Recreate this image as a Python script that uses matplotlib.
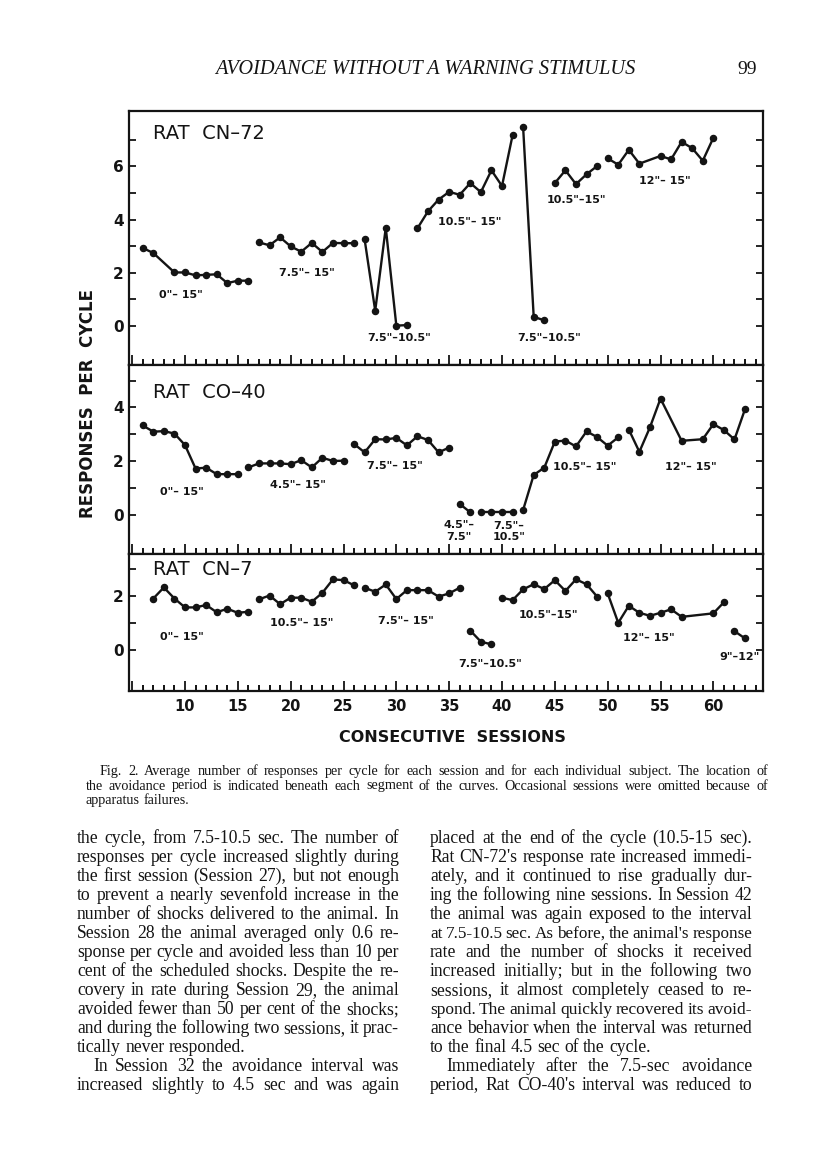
import matplotlib
matplotlib.use('Agg')
import matplotlib.pyplot as plt
from matplotlib.ticker import MultipleLocator

# ---- data ----
cn72_sessions = [[6, 7, 9, 10, 11, 12, 13, 14, 15, 16],
                 list(range(17, 27)),
                 [27, 28, 29, 30, 31],
                 list(range(32, 42)),
                 [42, 43, 44],
                 [45, 46, 47, 48, 49],
                 [50, 51, 52, 53, 55, 56, 57, 58, 59, 60]]
cn72_values = [[2.93, 2.74, 2.01, 2.01, 1.90, 1.92, 1.94, 1.61, 1.70, 1.70],
               [3.14, 3.03, 3.33, 2.99, 2.79, 3.12, 2.78, 3.12, 3.11, 3.11],
               [3.25, 0.57, 3.69, 0.01, 0.03],
               [3.67, 4.31, 4.75, 5.04, 4.93, 5.37, 5.03, 5.85, 5.26, 7.17],
               [7.46, 0.34, 0.21],
               [5.37, 5.85, 5.33, 5.70, 6.01],
               [6.30, 6.06, 6.62, 6.10, 6.39, 6.26, 6.92, 6.68, 6.21, 7.07]]
cn72_labels = ['0"– 15"', '7.5"– 15"', '7.5"–10.5"', '10.5"– 15"',
               '7.5"–10.5"', '10.5"–15"', '12"– 15"']

co40_sessions = [list(range(6, 16)),
                 list(range(16, 26)),
                 list(range(26, 36)),
                 [36, 37],
                 [38, 39, 40, 41],
                 list(range(42, 52)),
                 [52, 53, 54, 55, 57, 59, 60, 61, 62, 63]]
co40_values = [[3.33, 3.10, 3.12, 3.03, 2.60, 1.73, 1.76, 1.52, 1.52, 1.52],
               [1.77, 1.92, 1.92, 1.92, 1.89, 2.04, 1.77, 2.13, 2.01, 2.02],
               [2.64, 2.33, 2.82, 2.81, 2.87, 2.59, 2.93, 2.79, 2.33, 2.51],
               [0.41, 0.10],
               [0.10, 0.10, 0.10, 0.10],
               [0.19, 1.49, 1.76, 2.73, 2.77, 2.55, 3.11, 2.90, 2.58, 2.89],
               [3.18, 2.35, 3.26, 4.33, 2.76, 2.82, 3.38, 3.16, 2.81, 3.94]]
co40_labels = ['0"– 15"', '4.5"– 15"', '7.5"– 15"', '4.5"–\n7.5"',
               '7.5"–\n10.5"', '10.5"– 15"', '12"– 15"']

cn7_sessions = [list(range(7, 17)),
                list(range(17, 27)),
                list(range(27, 37)),
                [37, 38, 39],
                list(range(40, 50)),
                [50, 51, 52, 53, 54, 55, 56, 57, 60, 61],
                [62, 63]]
cn7_values = [[1.91, 2.32, 1.91, 1.58, 1.58, 1.67, 1.40, 1.53, 1.38, 1.42],
              [1.88, 2.02, 1.70, 1.94, 1.94, 1.79, 2.12, 2.62, 2.59, 2.40],
              [2.31, 2.16, 2.43, 1.89, 2.22, 2.22, 2.22, 1.98, 2.10, 2.31],
              [0.72, 0.31, 0.21],
              [1.94, 1.85, 2.25, 2.44, 2.26, 2.59, 2.19, 2.62, 2.44, 1.98],
              [2.10, 1.01, 1.64, 1.38, 1.27, 1.38, 1.51, 1.23, 1.36, 1.77],
              [0.70, 0.43]]
cn7_labels = ['0"– 15"', '10.5"– 15"', '7.5"– 15"', '7.5"–10.5"',
              '10.5"–15"', '12"– 15"', '9"–12"']

rat_names = ['RAT  CN–72', 'RAT  CO–40', 'RAT  CN–7']
x_ticks = [5, 10, 15, 20, 25, 30, 35, 40, 45, 50, 55, 60]
x_ticklabels = ['', '10', '15', '20', '25', '30', '35', '40', '45', '50', '55', '60']

header = 'AVOIDANCE WITHOUT A WARNING STIMULUS'
page_no = '99'
caption = ['Fig. 2. Average number of responses per cycle for each session and for each individual subject. The location of',
           'the avoidance period is indicated beneath each segment of the curves. Occasional sessions were omitted because of',
           'apparatus failures.']
left_col = ['the cycle, from 7.5-10.5 sec. The number of',
            'responses per cycle increased slightly during',
            'the first session (Session 27), but not enough',
            'to prevent a nearly sevenfold increase in the',
            'number of shocks delivered to the animal. In',
            'Session 28 the animal averaged only 0.6 re-',
            'sponse per cycle and avoided less than 10 per',
            'cent of the scheduled shocks. Despite the re-',
            'covery in rate during Session 29, the animal',
            'avoided fewer than 50 per cent of the shocks;',
            'and during the following two sessions, it prac-',
            'tically never responded.',
            'In Session 32 the avoidance interval was',
            'increased slightly to 4.5 sec and was again']
right_col = ['placed at the end of the cycle (10.5-15 sec).',
             "Rat CN-72's response rate increased immedi-",
             'ately, and it continued to rise gradually dur-',
             'ing the following nine sessions. In Session 42',
             'the animal was again exposed to the interval',
             "at 7.5-10.5 sec. As before, the animal's response",
             'rate and the number of shocks it received',
             'increased initially; but in the following two',
             'sessions, it almost completely ceased to re-',
             'spond. The animal quickly recovered its avoid-',
             'ance behavior when the interval was returned',
             'to the final 4.5 sec of the cycle.',
             'Immediately after the 7.5-sec avoidance',
             "period, Rat CO-40's interval was reduced to"]

# ---- layout ----
W, H = 816, 1176
fig = plt.figure(figsize=(W / 100, H / 100), dpi=100)
fig.patch.set_facecolor('white')
renderer = fig.canvas.get_renderer()

def fx(x):
    return x / W

def fy(y):
    return 1 - y / H

# panel boxes in pixels: top, bottom ; y limits ; label positions (data coords)
panel_px = [(111, 365), (365, 554), (554, 690.5)]
ylims = [(-1.47, 8.08), (-1.45, 5.58), (-1.5, 3.56)]
ytop = [7, 5, 3]
title_pos = [0.913, 0.857, 0.883]
label_pos = [
    [(9.62, 1.17), (21.55, 1.99), (30.25, -0.45), (36.97, 3.91), (44.45, -0.45), (47.0, 4.74), (55.42, 5.45)],
    [(9.72, 0.86), (20.69, 1.12), (29.87, 1.82), (35.9, -0.6), (40.66, -0.62), (47.85, 1.78), (57.89, 1.78)],
    [(9.72, 0.48), (21.07, 1.0), (30.91, 1.07), (38.86, -0.52), (44.35, 1.30), (53.91, 0.44), (62.52, -0.26)],
]
all_sessions = [cn72_sessions, co40_sessions, cn7_sessions]
all_values = [cn72_values, co40_values, cn7_values]
all_labels = [cn72_labels, co40_labels, cn7_labels]

ink = '#141414'
for i in range(3):
    top, bot = panel_px[i]
    ax = fig.add_axes([fx(129), fy(bot), 634 / W, (bot - top) / H])
    for s, v in zip(all_sessions[i], all_values[i]):
        ax.plot(s, v, color=ink, lw=1.7, marker='o', ms=4.4, solid_capstyle='round')
    for lab, (lx, ly) in zip(all_labels[i], label_pos[i]):
        ax.text(lx, ly, lab, ha='center', va='center', fontsize=8, fontweight='bold',
                color=ink, linespacing=1.2)
    ax.text(0.038, title_pos[i], rat_names[i], transform=ax.transAxes, ha='left',
            va='center', fontsize=14, color=ink)
    ax.set_xlim(4.7, 64.7)
    ax.set_ylim(*ylims[i])
    ax.set_xticks(x_ticks)
    ax.xaxis.set_minor_locator(MultipleLocator(1))
    yt = list(range(0, ytop[i] + 1))
    ax.set_yticks(yt)
    ax.set_yticklabels([str(t) if t % 2 == 0 else '' for t in yt])
    if i == 2:
        ax.set_xticklabels(x_ticklabels)
    else:
        ax.set_xticklabels([])
    ax.tick_params(axis='x', which='major', direction='in', length=7, width=1.3,
                   top=False, labelsize=10.5, pad=6, colors=ink)
    ax.tick_params(axis='x', which='minor', direction='in', length=4, width=1.3, top=False)
    ax.tick_params(axis='y', which='major', direction='in', length=5, width=1.3,
                   left=True, right=True, labelsize=11, pad=4, colors=ink)
    for lab in ax.get_xticklabels() + ax.get_yticklabels():
        lab.set_fontweight('bold')
    for sp in ax.spines.values():
        sp.set_linewidth(1.6)
        sp.set_color(ink)

fig.text(fx(452), fy(738), 'CONSECUTIVE  SESSIONS', ha='center', va='center',
         fontsize=11.5, fontweight='bold', color=ink)
fig.text(fx(88), fy(403), 'RESPONSES  PER  CYCLE', ha='center', va='center',
         rotation=90, fontsize=12, fontweight='bold', color=ink)

# ---- page text ----
serif = 'Liberation Serif'
fig.text(fx(425), fy(74), header, ha='center', va='baseline', family=serif,
         style='italic', fontsize=14.7, color=ink)
fig.text(fx(757), fy(74), page_no, ha='right', va='baseline', family=serif,
         fontsize=14, color=ink)


def put_line(line, x0, x1, y, size, justify=True):
    words = line.split()
    while True:
        arts = [fig.text(0, fy(y), w, ha='left', va='baseline', family=serif,
                         fontsize=size, color=ink) for w in words]
        widths = [a.get_window_extent(renderer).width for a in arts]
        space = size * 100 / 72 * 0.25
        if justify and len(words) > 1:
            gap = (x1 - x0 - sum(widths)) / (len(words) - 1)
        else:
            gap = space
        if gap >= 0.7 * space or size < 8:
            break
        for a in arts:
            a.remove()
        size -= 0.2
    x = x0
    for a, w in zip(arts, widths):
        a.set_x(fx(x))
        x += w + gap


cap_y = [775, 789.5, 804]
put_line(caption[0], 100, 768, cap_y[0], 10.2)
put_line(caption[1], 86, 768, cap_y[1], 10.2)
put_line(caption[2], 86, 768, cap_y[2], 10.2, justify=False)

for k, line in enumerate(left_col):
    y = 843 + 19.0 * k
    x0 = 93 if k == 12 else 77
    put_line(line, x0, 399, y, 12.7, justify=(k != 11))
for k, line in enumerate(right_col):
    y = 843 + 19.0 * k
    x0 = 446 if k == 12 else 430
    put_line(line, x0, 752, y, 12.7, justify=(k != 11))

fig.savefig('out.png', dpi=100, facecolor='white')
